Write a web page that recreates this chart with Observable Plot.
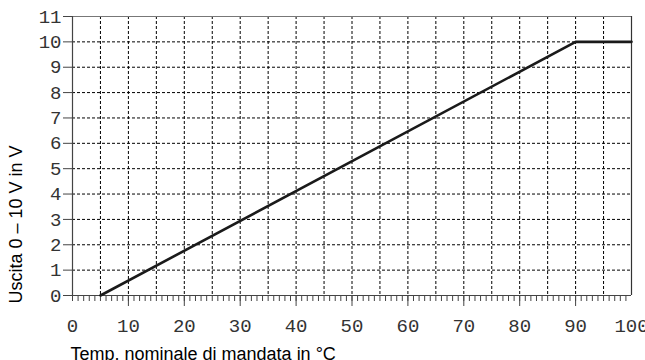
<!DOCTYPE html>
<html>
<head>
<meta charset="utf-8">
<script src="https://cdn.jsdelivr.net/npm/d3@7"></script>
<script src="https://cdn.jsdelivr.net/npm/@observablehq/plot@0.6"></script>
<style>
  html, body { margin: 0; padding: 0; background: #fff; }
  svg { display: block; }
</style>
</head>
<body>
<div id="chart"></div>
<script>
// Data
const tempX = [5, 90, 100];      // Temp. nominale di mandata (°C)
const voltY = [0, 10, 10];       // Uscita 0–10 V
const xTickLabels = [0, 10, 20, 30, 40, 50, 60, 70, 80, 90, 100];
const xMajorTicks = [10, 20, 30, 40, 50, 60, 70, 80, 90];
const xGridLines = [5, 10, 15, 20, 25, 30, 35, 40, 45, 50, 55, 60, 65, 70, 75, 80, 85, 90, 95];
const yTickLabels = [0, 1, 2, 3, 4, 5, 6, 7, 8, 9, 10, 11];
const yGridLines = [1, 2, 3, 4, 5, 6, 7, 8, 9, 10];
const xMinorTicks = d3.range(0, 100, 1);
const xTitle = "Temp. nominale di mandata in °C";
const yTitle = "Uscita 0 – 10 V in V";

const series = tempX.map((t, i) => ({t, v: voltY[i]}));

const mono = "Liberation Mono, DejaVu Sans Mono, monospace";
const sans = "Liberation Sans, Arial, sans-serif";
const dash = {stroke: "#000", strokeOpacity: 1, strokeWidth: 1, strokeDasharray: "3,2"};

const chart = Plot.plot({
  width: 645,
  height: 360,
  marginLeft: 72,
  marginRight: 14,
  marginTop: 16,
  marginBottom: 65,
  x: {domain: [0, 100]},
  y: {domain: [0, 11]},
  marks: [
    Plot.gridX(xGridLines, dash),
    Plot.gridY(yGridLines, dash),
    Plot.ruleY([11], {stroke: "#777", strokeWidth: 1}),
    Plot.ruleX([100], {stroke: "#333", strokeWidth: 1.2}),
    Plot.axisX(xMinorTicks, {tickSize: 6, tickFormat: () => "", stroke: "#444", label: null}),
    Plot.axisX(xMajorTicks, {tickSize: 11, tickFormat: () => "", stroke: "#444", label: null}),
    Plot.axisX(xTickLabels, {tickSize: 0, tickPadding: 23, fontFamily: mono, fontSize: 19, fill: "#333", label: null}),
    Plot.axisY(yTickLabels, {tickSize: 9, tickPadding: 2, fontFamily: mono, fontSize: 19, fill: "#333", stroke: "#444", label: null}),
    Plot.ruleX([0], {stroke: "#444", strokeWidth: 1.2}),
    Plot.ruleY([0], {stroke: "#444", strokeWidth: 1.2}),
    Plot.line(series, {x: "t", y: "v", stroke: "#1a1a1a", strokeWidth: 2.6}),
    Plot.text([xTitle], {frameAnchor: "bottom-left", textAnchor: "start", lineAnchor: "bottom", dx: -2, dy: 64, fontFamily: sans, fontSize: 18, fill: "#000"}),
    Plot.text([yTitle], {frameAnchor: "bottom-left", textAnchor: "start", lineAnchor: "bottom", rotate: -90, dx: -51, dy: 8, fontFamily: sans, fontSize: 18, fill: "#000"})
  ]
});
document.getElementById("chart").appendChild(chart);
</script>
</body>
</html>
